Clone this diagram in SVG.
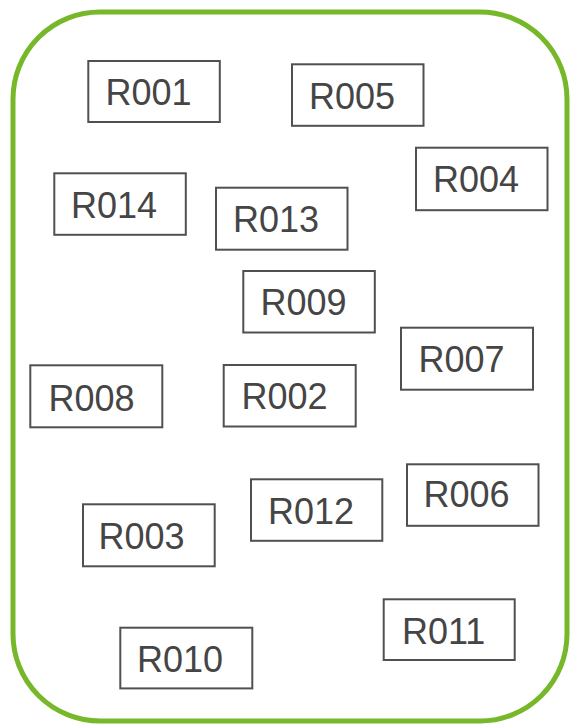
<svg xmlns="http://www.w3.org/2000/svg" width="572" height="724" viewBox="0 0 572 724">
<style>
.frame{fill:#ffffff;stroke:#76b82a;stroke-width:5}
.box{fill:#ffffff;stroke:#505050;stroke-width:2}
.lbl{font-family:"Liberation Sans",Arial,sans-serif;font-size:36px;fill:#454545}
</style>
<rect width="572" height="724" fill="#ffffff"/>
<g id="container"><rect class="frame" x="13" y="12" width="554" height="709" rx="87" ry="87"/></g>
<g id="connectors"></g>
<g id="R001"><rect class="box" x="88.3" y="61" width="131.5" height="61"/><text class="lbl" x="105.5" y="104.5">R001</text></g>
<g id="R005"><rect class="box" x="292" y="64.3" width="131.5" height="61.5"/><text class="lbl" x="309" y="108.5">R005</text></g>
<g id="R004"><rect class="box" x="416" y="147.7" width="131.5" height="62.5"/><text class="lbl" x="433" y="192">R004</text></g>
<g id="R014"><rect class="box" x="54.3" y="173.3" width="131.5" height="61.5"/><text class="lbl" x="71" y="217.5">R014</text></g>
<g id="R013"><rect class="box" x="216" y="187.7" width="131.5" height="62"/><text class="lbl" x="233" y="232">R013</text></g>
<g id="R009"><rect class="box" x="243.3" y="271" width="131.5" height="61.5"/><text class="lbl" x="260.5" y="315">R009</text></g>
<g id="R007"><rect class="box" x="401" y="327.7" width="132" height="62"/><text class="lbl" x="418.5" y="372">R007</text></g>
<g id="R008"><rect class="box" x="30.3" y="365.3" width="132" height="62"/><text class="lbl" x="48.5" y="410.5">R008</text></g>
<g id="R002"><rect class="box" x="223.7" y="365" width="132" height="61.5"/><text class="lbl" x="241.5" y="408.5">R002</text></g>
<g id="R006"><rect class="box" x="407" y="464.3" width="131.5" height="61.5"/><text class="lbl" x="423.5" y="507">R006</text></g>
<g id="R012"><rect class="box" x="251" y="479.3" width="131.3" height="61.5"/><text class="lbl" x="268" y="523.5">R012</text></g>
<g id="R003"><rect class="box" x="83" y="504.3" width="131.7" height="62"/><text class="lbl" x="98.5" y="548.5">R003</text></g>
<g id="R011"><rect class="box" x="383.7" y="599.3" width="131" height="60.7"/><text class="lbl" x="402" y="643.5">R011</text></g>
<g id="R010"><rect class="box" x="120.3" y="627.7" width="132" height="60.7"/><text class="lbl" x="137" y="671.7">R010</text></g>
</svg>
